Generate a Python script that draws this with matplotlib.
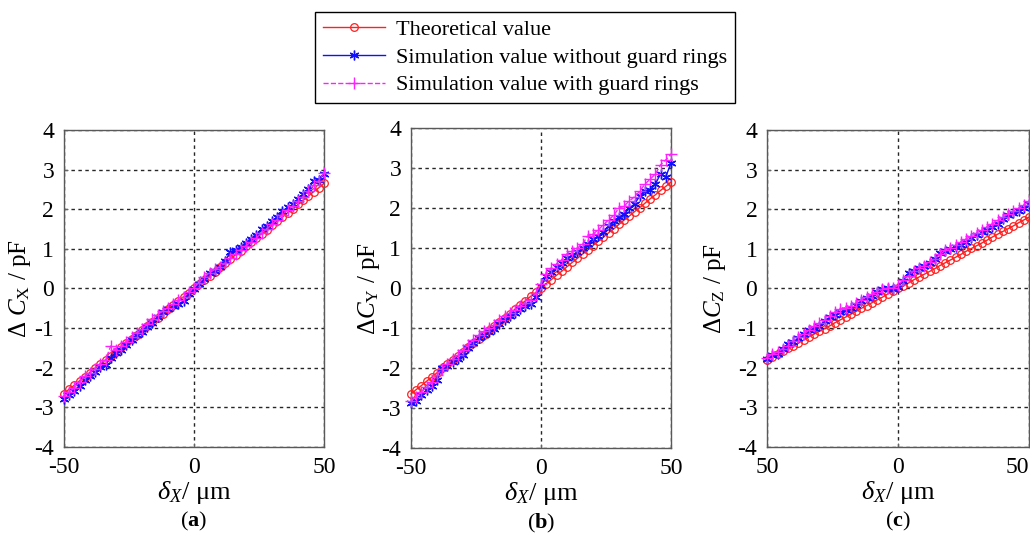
import matplotlib
matplotlib.use("Agg")
import matplotlib.pyplot as plt
import numpy as np

plt.rcParams.update({
    "font.family": "serif",
    "font.serif": ["Liberation Serif", "DejaVu Serif"],
    "mathtext.fontset": "custom",
    "mathtext.rm": "Liberation Serif",
    "mathtext.it": "Liberation Serif:italic",
    "mathtext.bf": "Liberation Serif:bold",
})

# displacement grid (um)
delta_x = np.arange(-50, 51, 2)

# (a) Delta C_X
theory_a = [-2.65, -2.54, -2.44, -2.33, -2.23, -2.12, -2.01, -1.91, -1.80, -1.70, -1.59,
            -1.48, -1.38, -1.27, -1.17, -1.06, -0.95, -0.85, -0.74, -0.64, -0.53, -0.42,
            -0.32, -0.21, -0.11, 0.00, 0.11, 0.21, 0.32, 0.42, 0.53, 0.64, 0.74, 0.85,
            0.95, 1.06, 1.17, 1.27, 1.38, 1.48, 1.59, 1.70, 1.80, 1.91, 2.01, 2.12, 2.23,
            2.33, 2.44, 2.54, 2.65]
noguard_a = [-2.80, -2.70, -2.58, -2.45, -2.30, -2.20, -2.10, -1.98, -1.92, -1.75, -1.62,
             -1.55, -1.42, -1.30, -1.18, -1.10, -0.98, -0.86, -0.72, -0.60, -0.52, -0.45,
             -0.40, -0.32, -0.15, -0.02, 0.12, 0.25, 0.38, 0.45, 0.55, 0.70, 0.92, 0.98,
             1.05, 1.15, 1.25, 1.35, 1.50, 1.58, 1.70, 1.80, 1.95, 2.05, 2.12, 2.25, 2.38,
             2.50, 2.72, 2.75, 2.88]
guard_a = [-2.72, -2.62, -2.50, -2.36, -2.22, -2.12, -2.02, -1.90, -1.80, -1.45, -1.55,
           -1.45, -1.35, -1.22, -1.12, -1.02, -0.90, -0.78, -0.66, -0.56, -0.48, -0.40,
           -0.30, -0.22, -0.10, 0.02, 0.15, 0.28, 0.40, 0.48, 0.55, 0.64, 0.78, 0.88,
           0.98, 1.08, 1.18, 1.28, 1.40, 1.50, 1.62, 1.74, 1.86, 1.98, 2.08, 2.20, 2.32,
           2.45, 2.60, 2.72, 2.92]

# (b) Delta C_Y
theory_b = [-2.65, -2.54, -2.44, -2.33, -2.23, -2.12, -2.01, -1.91, -1.80, -1.70, -1.59,
            -1.48, -1.38, -1.27, -1.17, -1.06, -0.95, -0.85, -0.74, -0.64, -0.53, -0.42,
            -0.32, -0.21, -0.11, 0.00, 0.11, 0.21, 0.32, 0.42, 0.53, 0.64, 0.74, 0.85,
            0.95, 1.06, 1.17, 1.27, 1.38, 1.48, 1.59, 1.70, 1.80, 1.91, 2.01, 2.12, 2.23,
            2.33, 2.44, 2.54, 2.65]
noguard_b = [-2.88, -2.82, -2.68, -2.55, -2.45, -2.30, -2.00, -1.95, -1.85, -1.78, -1.68,
             -1.50, -1.38, -1.25, -1.18, -1.10, -1.02, -0.90, -0.80, -0.70, -0.62, -0.52,
             -0.45, -0.40, -0.22, 0.05, 0.30, 0.40, 0.52, 0.62, 0.75, 0.82, 0.90, 1.00,
             1.10, 1.22, 1.30, 1.40, 1.55, 1.68, 1.78, 1.85, 2.00, 2.10, 2.30, 2.42, 2.45,
             2.60, 2.85, 2.78, 3.12]
guard_b = [-2.82, -2.72, -2.60, -2.48, -2.35, -2.18, -2.02, -1.90, -1.78, -1.68, -1.55,
           -1.42, -1.30, -1.18, -1.08, -1.00, -0.92, -0.80, -0.70, -0.62, -0.55, -0.45,
           -0.38, -0.30, -0.12, 0.10, 0.35, 0.50, 0.60, 0.70, 0.85, 0.92, 1.00, 1.10,
           1.30, 1.35, 1.45, 1.58, 1.70, 1.82, 2.00, 2.05, 2.18, 2.28, 2.42, 2.60, 2.72,
           2.85, 3.08, 3.20, 3.35]

# (c) Delta C_Z
theory_c = [-1.80, -1.73, -1.66, -1.58, -1.51, -1.44, -1.37, -1.30, -1.22, -1.15, -1.08,
            -1.01, -0.94, -0.86, -0.79, -0.72, -0.65, -0.58, -0.50, -0.43, -0.36, -0.29,
            -0.22, -0.14, -0.07, 0.00, 0.07, 0.14, 0.22, 0.29, 0.36, 0.43, 0.50, 0.58,
            0.65, 0.72, 0.79, 0.86, 0.94, 1.01, 1.08, 1.15, 1.22, 1.30, 1.37, 1.44, 1.51,
            1.58, 1.66, 1.73, 1.80]
noguard_c = [-1.78, -1.68, -1.66, -1.52, -1.40, -1.35, -1.26, -1.15, -1.05, -1.00, -0.95,
             -0.82, -0.72, -0.68, -0.60, -0.55, -0.50, -0.42, -0.32, -0.25, -0.18, -0.10,
             -0.02, 0.00, -0.02, 0.05, 0.20, 0.38, 0.45, 0.52, 0.58, 0.65, 0.75, 0.90,
             0.94, 1.00, 1.04, 1.10, 1.18, 1.28, 1.35, 1.42, 1.47, 1.55, 1.64, 1.76, 1.86,
             1.90, 1.96, 2.03, 2.12]
guard_c = [-1.75, -1.66, -1.60, -1.52, -1.45, -1.32, -1.22, -1.15, -1.05, -0.95, -0.88,
           -0.80, -0.70, -0.60, -0.52, -0.48, -0.45, -0.36, -0.28, -0.22, -0.15, -0.08,
           -0.02, 0.02, 0.00, 0.08, 0.22, 0.32, 0.45, 0.52, 0.58, 0.66, 0.75, 0.86,
           0.96, 1.02, 1.10, 1.18, 1.25, 1.32, 1.40, 1.47, 1.56, 1.63, 1.72, 1.80, 1.88,
           1.95, 2.02, 2.10, 2.20]

legend_labels = ["Theoretical value",
                 "Simulation value without guard rings",
                 "Simulation value with guard rings"]

panels = [
    ("a", r"$\Delta\ C_{\rm X}$ / pF", theory_a, noguard_a, guard_a, ["-50", "0", "50"]),
    ("b", r"$\Delta C_{\rm Y}$ / pF", theory_b, noguard_b, guard_b, ["-50", "0", "50"]),
    ("c", r"$\Delta C_{\rm Z}$ / pF", theory_c, noguard_c, guard_c, ["50", "0", "50"]),
]

rects = [
    (0.0621, 0.1645, 0.2524, 0.5925),
    (0.3990, 0.1626, 0.2524, 0.5981),
    (0.7447, 0.1645, 0.2544, 0.5925),
]
ylabel_x = [-0.12, -0.113, -0.148]

fig = plt.figure(figsize=(10.3, 5.35), dpi=100)

handles = None
for (tag, ylabel, th, ng, gd, xtl), rect, ylx in zip(panels, rects, ylabel_x):
    ax = fig.add_axes(rect)
    h1, = ax.plot(delta_x, th, color="#ff2020", lw=1.0, marker="o", ms=5.5,
                  mfc="none", mec="#ff2020", mew=0.9, clip_on=False, zorder=3)
    h2, = ax.plot(delta_x, ng, color="#1010ff", lw=1.0, marker=(6, 2, 0), ms=7,
                  mew=1.0, clip_on=False, zorder=4)
    h3, = ax.plot(delta_x, gd, color="#ff20ff", lw=1.0, ls="--", marker="+", ms=9,
                  mew=1.0, clip_on=False, zorder=5)
    handles = [h1, h2, h3]

    ax.set_xlim(-50, 50)
    ax.set_ylim(-4, 4)
    ax.set_xticks([-50, 0, 50])
    ax.set_xticklabels(xtl)
    ax.set_yticks(range(-4, 5))
    ax.set_yticklabels([str(v) for v in range(-4, 5)])
    ax.tick_params(direction="in", length=3, labelsize=17, pad=7, color="0.4")
    ax.grid(True, color="0.15", ls=(0, (2.5, 2.5)), lw=1.0)
    for s in ax.spines.values():
        s.set_color("0.35")
        s.set_linewidth(1.0)
    if tag == "c":
        ax.get_xticklabels()[-1].set_ha("right")

    ax.set_ylabel(ylabel, fontsize=18)
    ax.yaxis.set_label_coords(ylx, 0.5)
    ax.set_xlabel(r"$\delta_X$/ μm", fontsize=19, labelpad=1)
    ax.text(0.5, -0.235, rf"($\mathbf{{{tag}}}$)", transform=ax.transAxes,
            ha="center", va="center", fontsize=16)

leg = fig.legend(handles, legend_labels, loc="upper center",
                 bbox_to_anchor=(0.51, 0.978), fontsize=16, numpoints=1,
                 handlelength=2.8, labelspacing=0.32, borderpad=0.35,
                 handletextpad=0.5, fancybox=False, framealpha=1,
                 edgecolor="black", borderaxespad=0)
leg.get_frame().set_linewidth(1.0)

fig.savefig("out.png", dpi=100)
